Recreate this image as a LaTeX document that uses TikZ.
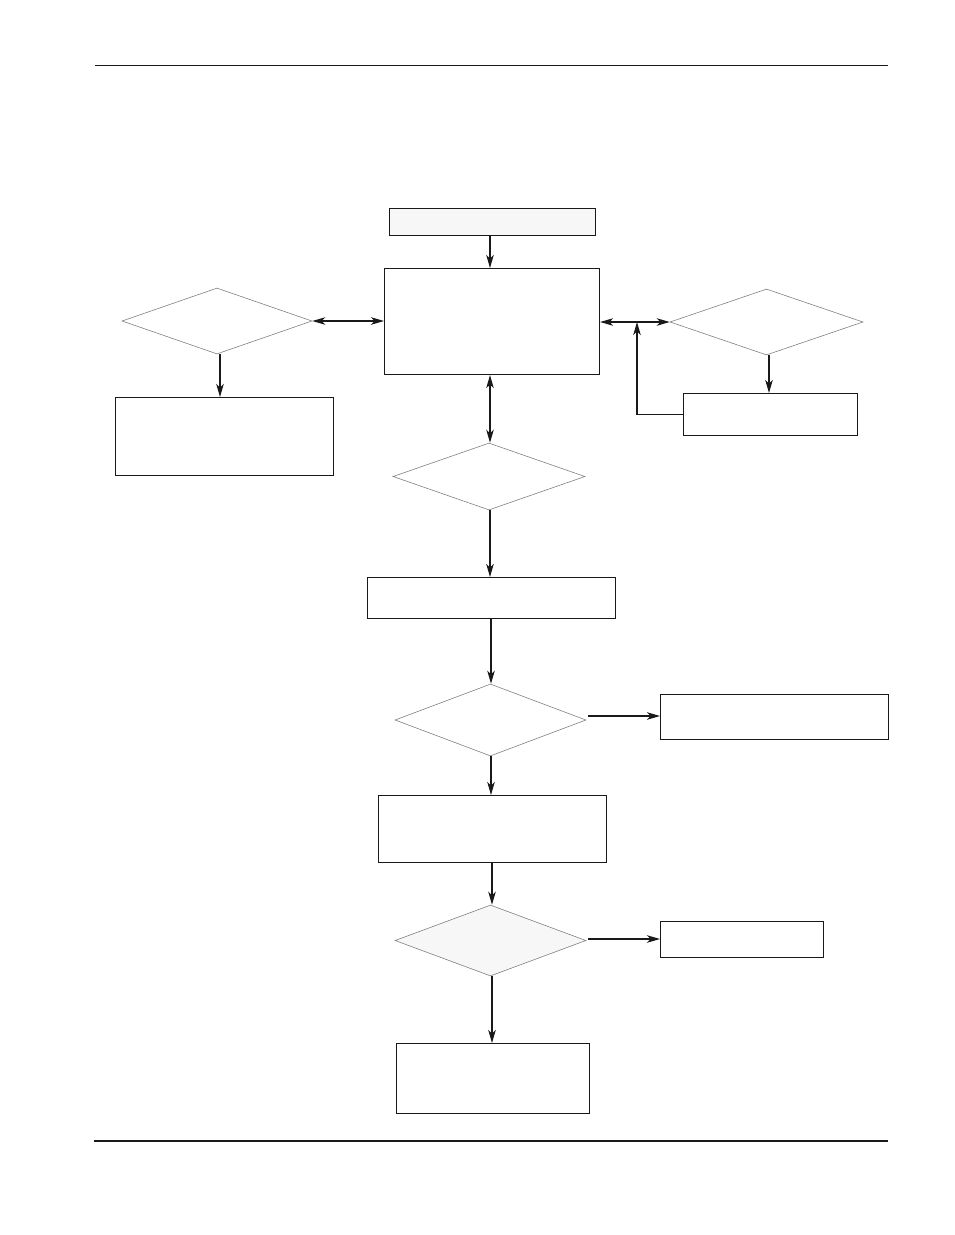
\documentclass[tikz,border=0pt]{standalone}
\usetikzlibrary{shapes.geometric,arrows.meta}
\begin{document}
\begin{tikzpicture}[x=1pt,y=-1pt,
  boxn/.style={draw=black!90, line width=1.1pt, rectangle, inner sep=0pt, anchor=north west},
  dia/.style={draw=black!50, line width=0.6pt, diamond, inner sep=0pt, aspect=2.8},
  conn/.style={line width=1.1pt, draw=black!90, -{Stealth[length=13pt,width=7.5pt,inset=3.5pt]}},
  dconn/.style={line width=1.1pt, draw=black!90, {Stealth[length=13pt,width=7.5pt,inset=3.5pt]}-{Stealth[length=13pt,width=7.5pt,inset=3.5pt]}}
]
\useasboundingbox (0,0) rectangle (954,1235);
% page rules
\coordinate (h1) at (95,65); \coordinate (h2) at (888,65);
\draw[line width=0.9pt, black!90] (h1) -- (h2);
\coordinate (f1) at (94,1141); \coordinate (f2) at (888,1141);
\draw[line width=1.6pt, black!90] (f1) -- (f2);

% boxes
\node[boxn, fill=black!3, minimum width=206pt, minimum height=27pt] (top) at (389,208) {};
\node[boxn, minimum width=215pt, minimum height=106pt] (main) at (384,268) {};
\node[boxn, minimum width=218pt, minimum height=78pt] (lb) at (115,397) {};
\node[boxn, minimum width=174pt, minimum height=42pt] (rb) at (683,393) {};
\node[boxn, minimum width=248pt, minimum height=41pt] (b3) at (367,577) {};
\node[boxn, minimum width=228pt, minimum height=45pt] (rb3) at (660,694) {};
\node[boxn, minimum width=228pt, minimum height=67pt] (b4) at (378,795) {};
\node[boxn, minimum width=163pt, minimum height=36pt] (rb4) at (660,921) {};
\node[boxn, minimum width=193pt, minimum height=70pt] (b5) at (396,1043) {};

% diamonds
\node[dia, minimum width=190pt, minimum height=66pt] (ld) at (217,321) {};
\node[dia, minimum width=193pt, minimum height=66pt] (rd) at (766.5,322) {};
\node[dia, minimum width=192pt, minimum height=67pt] (d2) at (489,476.5) {};
\node[dia, minimum width=191pt, minimum height=72pt] (d3) at (490.5,720) {};
\node[dia, fill=black!3, minimum width=191pt, minimum height=71pt] (d4) at (490.5,940.5) {};

% connectors
\draw[conn] (top.south -| 490,0) -- (main.north -| 490,0);
\draw[dconn] (ld.east) -- (ld.east -| main.west);
\draw[dconn] (rd.west -| main.east) -- (rd.west);
\draw[conn] (ld.south -| 220,0) -- (lb.north -| 220,0);
\draw[conn] (rd.south -| 769,0) -- (rb.north -| 769,0);
\coordinate (fb) at (637,322);
\draw[conn] (rb.west) -| (fb);
\draw[dconn] (main.south -| 490,0) -- (d2.north -| 490,0);
\draw[conn] (d2.south -| 490,0) -- (b3.north -| 490,0);
\draw[conn] (b3.south -| 491,0) -- (d3.north -| 491,0);
\draw[conn] (d3.east |- 0,716) ++(2,0) -- (rb3.west |- 0,716);
\draw[conn] (d3.south -| 491,0) -- (b4.north -| 491,0);
\draw[conn] (b4.south -| 492,0) -- (d4.north -| 492,0);
\draw[conn] (d4.east |- 0,939) ++(2,0) -- (rb4.west |- 0,939);
\draw[conn] (d4.south -| 492,0) -- (b5.north -| 492,0);
\end{tikzpicture}
\end{document}
